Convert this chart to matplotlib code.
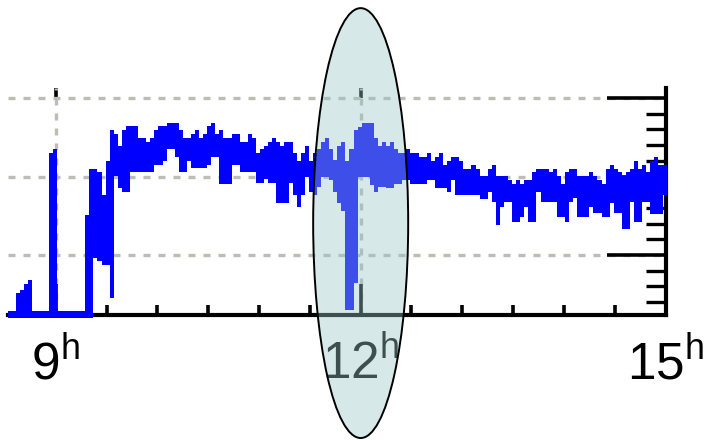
import numpy as np
import matplotlib
matplotlib.use("Agg")
import matplotlib.pyplot as plt
from matplotlib.patches import Ellipse
from matplotlib.ticker import MultipleLocator, NullFormatter
from matplotlib.transforms import blended_transform_factory

# sampling of the trace (hours), one column every 2.4 minutes
start_hour = 8.53
step_hour = 0.04

# upper / lower envelope of the trace for each column
hi = [2.9, 2.9, 5.2, 5.5, 6.3, 6.8, 2.9, 2.9, 2.9, 2.9,
      23.0, 23.5, 2.9, 2.9, 2.9, 2.9, 2.9, 2.9, 2.9, 15.1,
      21.0, 21.0, 20.6, 17.6, 22.0, 25.9, 25.4, 23.9, 25.9, 26.4,
      26.4, 26.4, 24.9, 24.9, 24.4, 24.9, 25.9, 26.4, 26.4, 26.8,
      26.8, 26.8, 25.9, 24.9, 24.9, 25.4, 25.9, 24.9, 25.4, 26.4,
      26.8, 25.4, 25.9, 24.9, 24.9, 25.4, 25.4, 24.4, 24.4, 25.4,
      24.9, 23.0, 23.5, 23.9, 24.4, 24.9, 24.4, 23.9, 24.4, 24.4,
      23.0, 22.0, 23.0, 23.9, 22.0, 23.0, 23.5, 24.4, 24.9, 23.5,
      22.1, 23.9, 24.4, 22.0, 23.5, 25.9, 26.3, 26.8, 26.8, 26.8,
      24.9, 23.9, 24.4, 23.9, 24.4, 23.5, 23.0, 23.0, 23.5, 23.0,
      23.0, 22.5, 22.5, 23.0, 22.0, 22.5, 23.0, 21.5, 22.0, 22.5,
      22.5, 22.0, 21.0, 21.0, 21.5, 21.0, 20.1, 20.1, 21.0, 21.5,
      20.1, 20.1, 20.1, 19.6, 19.0, 19.6, 19.0, 19.6, 19.6, 20.6,
      21.0, 21.0, 21.0, 20.6, 21.0, 20.1, 19.0, 20.6, 21.0, 21.0,
      20.1, 20.1, 20.1, 20.6, 20.1, 19.6, 19.0, 21.0, 21.5, 21.0,
      20.6, 20.1, 20.6, 21.0, 22.0, 21.0, 21.5, 20.6, 22.0, 22.5,
      21.5, 21.5]
lo = [2.0, 2.0, 2.0, 2.0, 2.0, 2.0, 2.0, 2.0, 2.0, 2.0,
      2.0, 2.0, 2.0, 2.0, 2.0, 2.0, 2.0, 2.0, 2.0, 2.0,
      2.0, 9.6, 9.2, 8.7, 8.7, 4.5, 20.1, 18.5, 18.0, 18.0,
      20.6, 20.6, 20.6, 20.6, 20.6, 20.6, 21.5, 21.5, 22.0, 23.5,
      23.5, 22.5, 20.6, 20.6, 22.0, 21.1, 21.1, 21.1, 21.1, 21.5,
      22.5, 22.5, 19.0, 19.0, 19.0, 21.5, 21.5, 20.6, 20.6, 20.6,
      20.6, 19.2, 19.2, 19.7, 19.2, 19.2, 16.6, 16.6, 16.6, 19.2,
      17.6, 16.1, 17.6, 19.9, 18.0, 17.6, 18.7, 19.9, 19.9, 19.6,
      18.0, 16.6, 15.6, 3.0, 3.0, 6.4, 19.9, 19.9, 19.9, 18.9,
      18.0, 18.7, 18.7, 18.5, 18.5, 19.0, 19.0, 19.6, 19.6, 19.0,
      19.0, 19.0, 19.0, 19.6, 19.6, 18.5, 18.5, 18.5, 18.0, 19.6,
      17.6, 17.6, 17.6, 17.6, 17.6, 17.6, 17.1, 17.1, 18.0, 16.8,
      13.8, 16.1, 16.8, 16.8, 14.2, 14.2, 14.8, 16.1, 14.2, 14.2,
      18.0, 16.8, 16.8, 16.8, 16.8, 14.8, 14.8, 14.2, 16.8, 17.3,
      14.8, 14.8, 14.8, 16.1, 15.4, 15.4, 14.8, 14.8, 16.6, 15.4,
      15.4, 13.3, 13.3, 16.8, 14.2, 14.2, 16.8, 16.8, 15.2, 15.2,
      15.2, 17.6]

hour_ticks = [9, 12, 15]
hour_labels = [r"$\mathregular{9^h}$", r"$\mathregular{12^h}$", r"$\mathregular{15^h}$"]
top_ticks = [9, 12]
level_ticks = [10, 20, 30]
highlight_hour = 12
highlight_span = 0.935  # hours

fig = plt.figure(figsize=(7.04, 4.40), dpi=100, facecolor="white")
ax = fig.add_axes([0.0114, 0.284, 0.934, 0.516])

edges = start_hour + step_hour * np.arange(len(hi) + 1)
ax.fill_between(edges, lo + lo[-1:], hi + hi[-1:], step="post",
                color="#0000ff", lw=0, zorder=3, clip_on=False)

ax.set_xlim(start_hour, 15)
ax.set_ylim(2.36, 31.27)

ax.grid(which="major", color="#bdbdb5", lw=2.4, linestyle=(0, (2.1, 2.4)))
ax.set_axisbelow(True)

ax.set_xticks(hour_ticks, hour_labels)
ax.xaxis.set_minor_locator(MultipleLocator(0.5))
ax.yaxis.tick_right()
ax.set_yticks(level_ticks)
ax.yaxis.set_minor_locator(MultipleLocator(2))
ax.tick_params(axis="y", which="major", direction="in", length=42.5, width=2.6,
               labelright=False)
ax.tick_params(axis="y", which="minor", direction="in", length=14.4, width=2.4)
ax.tick_params(axis="x", which="major", direction="in", length=22, width=2.6,
               pad=17, labelsize=37)
ax.tick_params(axis="x", which="minor", direction="in", length=7.2, width=2.6)
for lab in ax.get_xticklabels():
    lab.set_family(["Liberation Sans", "DejaVu Sans"])

for side in ["left", "top"]:
    ax.spines[side].set_visible(False)
for side in ["bottom", "right"]:
    ax.spines[side].set_linewidth(3)

top = ax.secondary_xaxis("top")
top.set_xticks(top_ticks)
top.xaxis.set_major_formatter(NullFormatter())
top.tick_params(direction="in", length=7.2, width=2.6)
top.spines["top"].set_visible(False)

trans = blended_transform_factory(ax.transData, fig.transFigure)
ell = Ellipse((highlight_hour, 0.493), highlight_span, 0.977, transform=trans,
              facecolor=(0.6, 0.78, 0.78, 0.4), edgecolor="black", lw=1.4,
              zorder=10, clip_on=False)
fig.add_artist(ell)

fig.savefig("out.png", dpi=100, facecolor="white")
